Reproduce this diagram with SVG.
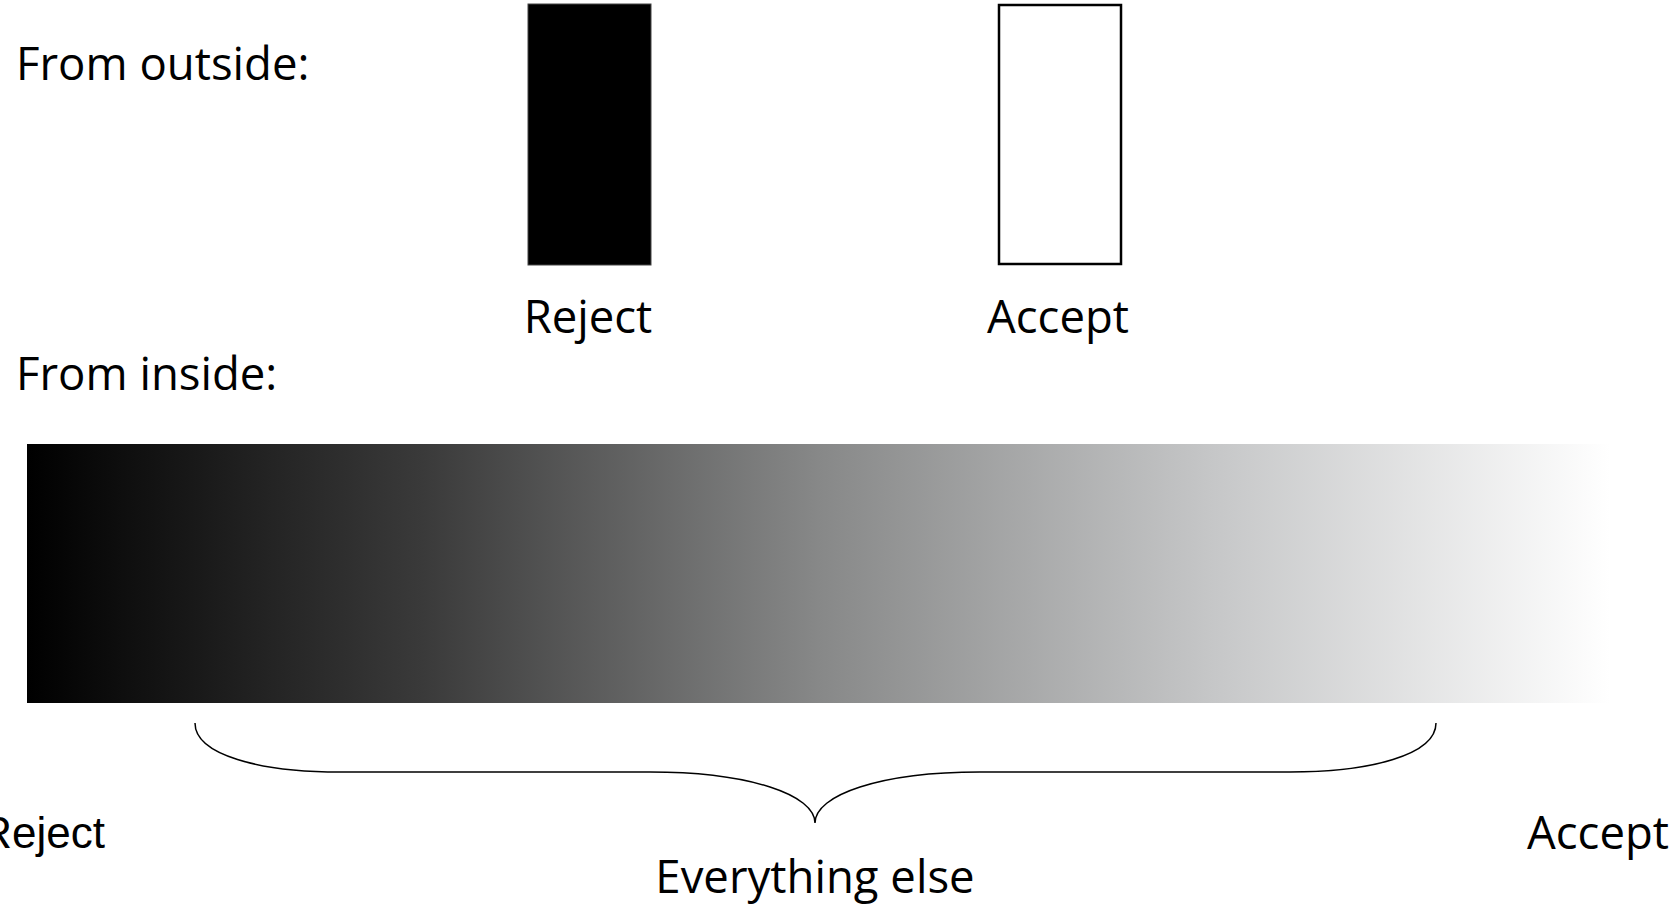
<svg xmlns="http://www.w3.org/2000/svg" width="1678" height="910" viewBox="0 0 1678 910">
<style>
  .t { font-family: "Open Sans", "Noto Sans", sans-serif; font-size: 45.5px; fill: #000; }
  .a { font-family: "Liberation Sans", Arial, sans-serif; font-size: 44px; fill: #000; }
  .brace { fill: none; stroke: #000; stroke-width: 1.5; }
</style>
<defs>
  <linearGradient id="grad" x1="0" y1="0" x2="1" y2="0">
    <stop offset="0" stop-color="#000000"/>
    <stop offset="0.25" stop-color="#3a3a3a"/>
    <stop offset="0.5" stop-color="#878888"/>
    <stop offset="0.75" stop-color="#c6c7c8"/>
    <stop offset="1" stop-color="#ffffff"/>
  </linearGradient>
</defs>
<rect width="1678" height="910" fill="#ffffff"/>
<g id="label-outside"><text class="t" x="16" y="80">From outside:</text></g>
<g id="label-inside"><text class="t" x="16" y="390">From inside:</text></g>
<g id="outside-reject">
  <rect x="528" y="4" width="123" height="261" fill="#000" stroke="#444" stroke-width="1"/>
  <text class="t" x="588" y="333" text-anchor="middle">Reject</text>
</g>
<g id="outside-accept">
  <rect x="999" y="5" width="122" height="259" fill="#fff" stroke="#000" stroke-width="2.5"/>
  <text class="t" x="1058" y="333" text-anchor="middle">Accept</text>
</g>
<g id="inside-bar">
  <rect x="27" y="444" width="1583" height="259" fill="url(#grad)"/>
</g>
<g id="connectors">
  <path class="brace" d="M195,723 C195,755 260,772 340,772 L650,772 C750,772 815,795 815,823 C815,795 880,772 980,772 L1290,772 C1370,772 1436,755 1436,723"/>
</g>
<g id="inside-reject"><text class="a" x="105" y="848" text-anchor="end">Reject</text></g>
<g id="inside-else"><text class="t" x="815" y="893" text-anchor="middle">Everything else</text></g>
<g id="inside-accept"><text class="t" x="1598" y="849" text-anchor="middle">Accept</text></g>
</svg>
